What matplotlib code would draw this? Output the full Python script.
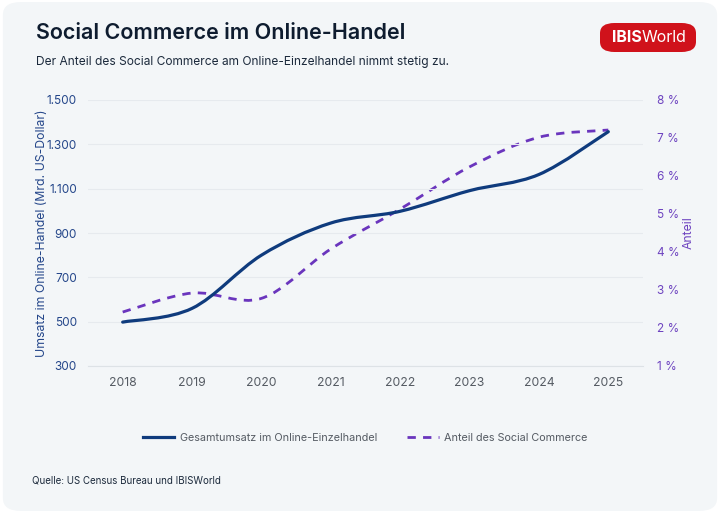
import matplotlib.pyplot as plt
import numpy as np
from matplotlib.path import Path
from matplotlib.patches import PathPatch, FancyBboxPatch
from matplotlib.lines import Line2D

plt.rcParams['font.family'] = ['Inter', 'DejaVu Sans']

jahre = [2018, 2019, 2020, 2021, 2022, 2023, 2024, 2025]
umsatz = [498, 560, 800, 945, 998, 1091, 1164, 1357]        # Mrd. US-Dollar
anteil = [2.42, 2.92, 2.78, 4.08, 5.13, 6.24, 7.02, 7.21]   # Prozent

links_ticks = [300, 500, 700, 900, 1100, 1300, 1500]
links_labels = ["300", "500", "700", "900", "1.100", "1.300", "1.500"]
rechts_ticks = [1, 2, 3, 4, 5, 6, 7, 8]
rechts_labels = ["1 %", "2 %", "3 %", "4 %", "5 %", "6 %", "7 %", "8 %"]

NAVY = "#0f3b7d"
LILA = "#6a35bd"
HG = "#f3f6f8"


def glatte_kurve(x, y):
    # Catmull-Rom als Bezier-Pfad (nur Darstellung, keine neuen Datenpunkte)
    x = np.asarray(x, float)
    y = np.asarray(y, float)
    pts = np.column_stack([x, y])
    ext = np.vstack([pts[0], pts, pts[-1]])
    verts = [pts[0]]
    codes = [Path.MOVETO]
    for i in range(len(pts) - 1):
        p0, p1, p2, p3 = ext[i], ext[i + 1], ext[i + 2], ext[i + 3]
        c1 = p1 + (p2 - p0) / 6
        c2 = p2 - (p3 - p1) / 6
        verts += [c1, c2, p2]
        codes += [Path.CURVE4] * 3
    return Path(verts, codes)


fig = plt.figure(figsize=(7.2, 5.13), dpi=100)
fig.patch.set_facecolor("white")
fig.patches.append(FancyBboxPatch((0.004, 0.004), 0.992, 0.992,
                                  boxstyle="round,pad=0,rounding_size=0.025",
                                  transform=fig.transFigure, facecolor=HG,
                                  edgecolor="none", zorder=-10))

# Kopf
fig.text(36 / 720, 1 - 33 / 513, "Social Commerce im Online-Handel", fontsize=15.5,
         fontweight="semibold", color="#0e1c2f", va="center")
fig.text(36 / 720, 1 - 62 / 513, "Der Anteil des Social Commerce am Online-Einzelhandel nimmt stetig zu.",
         fontsize=8.6, color="#1c2a3c", va="center")

# Logo
fig.patches.append(FancyBboxPatch((600 / 720, 1 - 52 / 513), 96 / 720, 29 / 513,
                                  boxstyle="round,pad=0,rounding_size=0.02",
                                  transform=fig.transFigure, facecolor="#d0121b",
                                  edgecolor="none"))
fig.text(642 / 720, 1 - 38 / 513, "IBIS", fontsize=11.5, fontweight="bold",
         color="white", ha="right", va="center")
fig.text(642 / 720, 1 - 38 / 513, "World", fontsize=11.5, color="white",
         ha="left", va="center")

ax = fig.add_axes([88 / 720, 1 - 366 / 513, 555 / 720, 266 / 513])
ax.set_facecolor("none")
ax.set_xlim(2017.5, 2025.5)
ax.set_ylim(300, 1500)
ax.set_yticks(links_ticks)
ax.set_yticklabels(links_labels)
ax.set_xticks(jahre)
ax.grid(axis="y", color="#e6eaee", linewidth=0.8)
ax.set_axisbelow(True)
for s in ["top", "right", "left"]:
    ax.spines[s].set_visible(False)
ax.spines["bottom"].set_color("#dde2e6")
ax.tick_params(axis="y", length=0, pad=8, labelsize=8.5, labelcolor="#24468a")
ax.tick_params(axis="x", length=0, pad=8, labelsize=8.8, labelcolor="#555b63")
ax.set_ylabel("Umsatz im Online-Handel (Mrd. US-Dollar)", fontsize=8.8, color="#24468a")
ax.yaxis.set_label_coords(-40 / 555, 0.5)

ax2 = ax.twinx()
ax2.set_ylim(1, 8)
ax2.set_yticks(rechts_ticks)
ax2.set_yticklabels(rechts_labels)
for s in ["top", "right", "left", "bottom"]:
    ax2.spines[s].set_visible(False)
ax2.tick_params(axis="y", length=0, pad=10, labelsize=8.5, labelcolor="#6e44c0")
ax2.set_ylabel("Anteil", fontsize=8.8, color="#6e44c0")
ax2.yaxis.set_label_coords(595 / 555, 0.5)

ax2.add_patch(PathPatch(glatte_kurve(jahre, anteil), fill=False, edgecolor=LILA,
                        linewidth=2.0, linestyle=(0, (3, 2.6)), capstyle="butt"))
ax.add_patch(PathPatch(glatte_kurve(jahre, umsatz), fill=False, edgecolor=NAVY,
                       linewidth=2.3, capstyle="round", zorder=5))
ax.set_zorder(ax2.get_zorder() + 1)
ax.patch.set_visible(False)

griffe = [Line2D([], [], color=NAVY, linewidth=2.3),
          Line2D([], [], color=LILA, linewidth=2.0, linestyle=(0, (3, 2.6)))]
fig.legend(griffe, ["Gesamtumsatz im Online-Einzelhandel", "Anteil des Social Commerce"],
           loc="center", bbox_to_anchor=(0.507, 1 - 438 / 513), ncol=2, frameon=False,
           fontsize=7.8, labelcolor="#555b63", handlelength=2.9, columnspacing=2.8,
           handletextpad=0.5)

fig.text(32 / 720, 1 - 480 / 513, "Quelle: US Census Bureau und IBISWorld", fontsize=7,
         color="#1c2a3c", va="center")

fig.savefig("out.png", dpi=100, facecolor=fig.get_facecolor())
